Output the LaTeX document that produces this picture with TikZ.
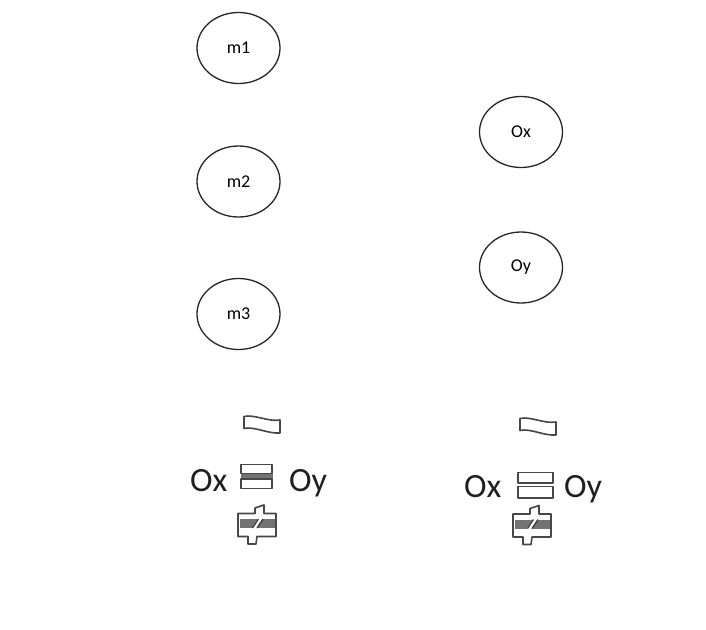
\documentclass[tikz,border=0pt]{standalone}
\usepackage{fontspec}
\setmainfont{Carlito}
\usetikzlibrary{shapes.geometric}
\tikzset{
  bub/.style={ellipse,draw=black!85,line width=1.3pt,minimum width=83pt,minimum height=71pt,inner sep=0pt,font=\fontsize{18}{21}\selectfont,text=black},
  big/.style={anchor=base west,inner sep=0pt,font=\fontsize{34}{40}\selectfont,text=black!88},
  symline/.style={draw=black!72,line width=1.6pt,line join=round},
  pics/approxsym/.style={code={
    \path[symline,fill=white] (-18,-7.5) .. controls (-8,-10) and (6,-2) .. (18,-4)
      -- (18,9) .. controls (6,10) and (-8,2) .. (-18,4.5) -- cycle;
  }},
  pics/eqwide/.style={code={
    \fill[black!55] (-16,-3) rectangle (16,2.5);
    \path[symline,fill=white] (-15.5,-12) rectangle (15.5,-3);
    \path[symline,fill=white] (-15.5,2.5) rectangle (15.5,12);
  }},
  pics/eqgap/.style={code={
    \path[symline,line width=1.8pt,fill=white] (-17.5,-13) rectangle (17.5,-2.5);
    \path[symline,line width=1.8pt,fill=white] (-17.5,1) rectangle (17.5,12.5);
  }},
  pics/neqsym/.style={code={
    \path[symline,fill=white] (-19,-11.5) -- (-2,-11.5) -- (-2,-17) .. controls (1,-19) and (4,-18) .. (7,-20)
      -- (7,-11.5) -- (19,-11.5) -- (19,11.5) -- (0,11.5) -- (-1,19) .. controls (-4,20) and (-6,18) .. (-9,19)
      -- (-9,11.5) -- (-19,11.5) -- cycle;
    \fill[black!55] (-17.5,-6) rectangle (17.5,3);
    \fill[white] (1.5,-7) -- (6,-7) -- (-1,4) -- (-5.5,4) -- cycle;
    \draw[black!80,line width=1.2pt] (1.5,-6) -- (-4.5,3);
    \draw[black!80,line width=1.2pt] (6,-6) -- (0,3);
  }}
}
\begin{document}
\begin{tikzpicture}[x=1pt,y=-1pt]
\useasboundingbox (0,0) rectangle (706,629);
\node[bub] (m1) at (238.5,48) {m1};
\node[bub] (m2) at (238.5,181.5) {m2};
\node[bub] (m3) at (238.5,314) {m3};
\node[bub] (ox) at (521,132) {Ox};
\node[bub] (oy) at (521,267.5) {Oy};

% left group
\pic (lapprox) at (262,424) {approxsym};
\node[big] (lox) at (190,491) {Ox};
\pic (leq) at (256.5,476.5) {eqwide};
\node[big] (loy) at (289,491) {Oy};
\pic (lneq) at (257,525) {neqsym};

% right group
\pic (rapprox) at (538,426) {approxsym};
\node[big] (rox) at (464,497) {Ox};
\pic (req) at (535.5,485.5) {eqgap};
\node[big] (roy) at (564,497) {Oy};
\pic (rneq) at (532,525.5) {neqsym};
\end{tikzpicture}
\end{document}
